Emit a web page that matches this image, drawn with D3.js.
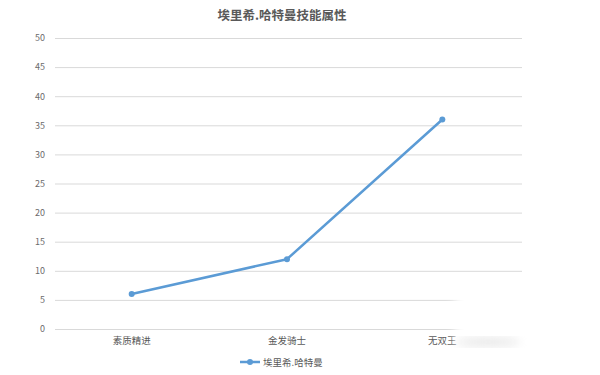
<!DOCTYPE html>
<html>
<head>
<meta charset="utf-8">
<script src="https://cdn.jsdelivr.net/npm/d3@7"></script>
<style>
  body { margin: 0; background: #fff; }
  text { font-family: "Noto Sans CJK SC", "Noto Sans", sans-serif; }
</style>
</head>
<body>
<svg width="600" height="375"></svg>
<script>
// chart data
var categories = ['素质精进', '金发骑士', '无双王'];
var values = [6, 12, 36];
var seriesName = '埃里希.哈特曼';
var yTicks = [0, 5, 10, 15, 20, 25, 30, 35, 40, 45, 50];

var svg = d3.select('svg');
var margin = {t: 38, r: 78, b: 46, l: 54};

var x = d3.scaleBand().domain(categories).range([margin.l, 520]);
var y = d3.scaleLinear().domain([0, 50]).range([329, margin.t]);

// title
svg.append('text')
    .attr('x', 282).attr('y', 20)
    .attr('text-anchor', 'middle')
    .attr('font-size', 12.5).attr('font-weight', 'bold')
    .attr('fill', '#595959')
    .text('埃里希.哈特曼技能属性');

// gridlines + y labels
var yAxis = d3.axisLeft(y).tickValues(yTicks).tickSize(-(522 - 55)).tickPadding(10);
var yG = svg.append('g')
    .attr('transform', 'translate(55,0)')
    .call(yAxis);
yG.select('.domain').remove();
yG.selectAll('.tick line').attr('stroke', '#d9d9d9');
yG.selectAll('.tick text')
    .attr('fill', '#6b6b6b').attr('font-size', 9);

// x labels
var xAxis = d3.axisBottom(x).tickSize(0).tickPadding(8);
var xG = svg.append('g')
    .attr('transform', 'translate(0,329)')
    .call(xAxis);
xG.select('.domain').remove();
xG.selectAll('.tick text').attr('fill', '#595959').attr('font-size', 9.5);

// line
var pts = categories.map(function(c, i) { return {c: c, v: values[i]}; });
var line = d3.line()
    .x(function(d) { return x(d.c) + x.bandwidth() / 2; })
    .y(function(d) { return y(d.v); });

svg.append('path')
    .datum(pts)
    .attr('d', line)
    .attr('fill', 'none')
    .attr('stroke', '#5b9bd5')
    .attr('stroke-width', 2.5)
    .attr('stroke-linejoin', 'round');

svg.selectAll('.pt')
    .data(pts)
    .enter().append('circle')
    .attr('class', 'pt')
    .attr('cx', function(d) { return x(d.c) + x.bandwidth() / 2; })
    .attr('cy', function(d) { return y(d.v); })
    .attr('r', 3)
    .attr('fill', '#5b9bd5');

// legend
var lg = svg.append('g').attr('transform', 'translate(240,362)');
lg.append('line').attr('x1', 0).attr('x2', 20).attr('y1', 0).attr('y2', 0)
    .attr('stroke', '#5b9bd5').attr('stroke-width', 2.5);
lg.append('circle').attr('cx', 10).attr('cy', 0).attr('r', 3).attr('fill', '#5b9bd5');
lg.append('text').attr('x', 23).attr('y', 4)
    .attr('fill', '#595959').attr('font-size', 9.5)
    .text(seriesName);

// watermark smear in lower right
var defs = svg.append('defs');
defs.append('filter').attr('id', 'blur')
    .append('feGaussianBlur').attr('stdDeviation', 5);
svg.append('rect').attr('x', 455).attr('y', 285).attr('width', 90).attr('height', 60)
    .attr('fill', '#fff').attr('filter', 'url(#blur)');
svg.append('ellipse').attr('cx', 488).attr('cy', 342).attr('rx', 32).attr('ry', 5)
    .attr('fill', '#d4d4d4').attr('opacity', 0.5).attr('filter', 'url(#blur)');
</script>
</body>
</html>
